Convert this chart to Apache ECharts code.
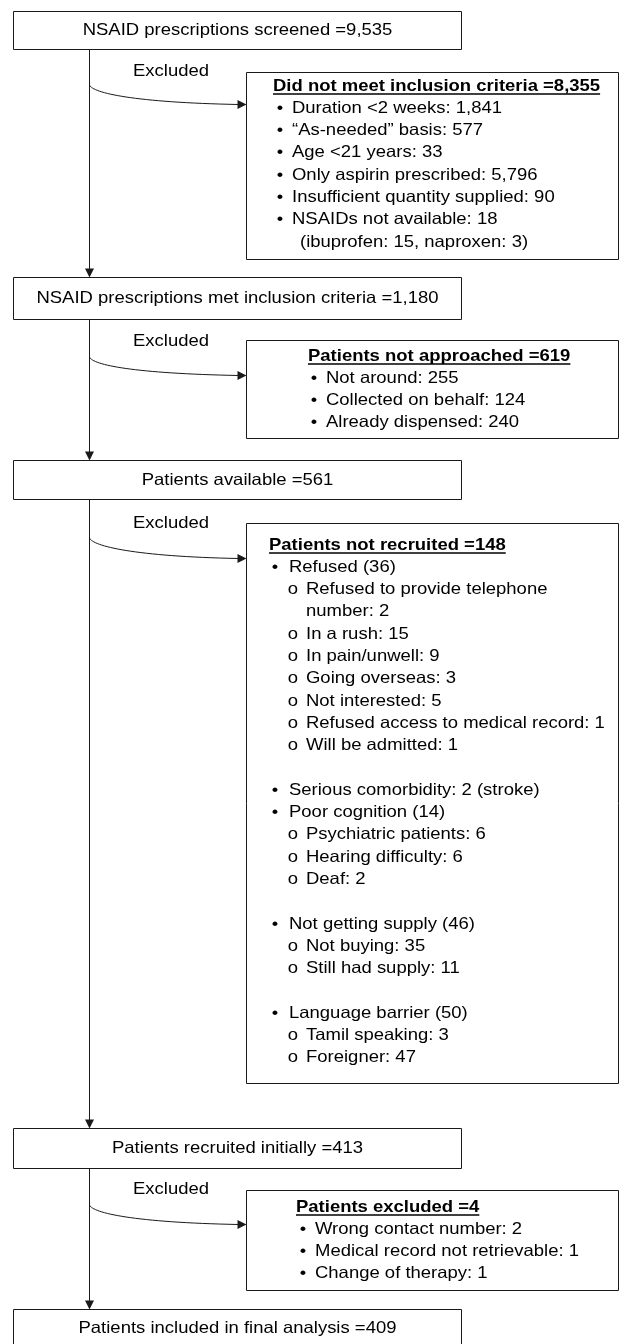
<!DOCTYPE html>
<html>
<head>
<meta charset="utf-8">
<script src="https://cdn.jsdelivr.net/npm/echarts@6/dist/echarts.min.js"></script>
<style>
  html, body { margin: 0; padding: 0; background: #fff; }
  #chart { width: 620px; height: 1344px; }
</style>
</head>
<body>
<div id="chart"></div>
<script>
// flow stages (main column)
const stageLabels = [
  "NSAID prescriptions screened =9,535",
  "NSAID prescriptions met inclusion criteria =1,180",
  "Patients available =561",
  "Patients recruited initially =413",
  "Patients included in final analysis =409"
];
const excludedLabel = "Excluded";

// exclusion boxes: b = bullet, s = sub item, sc / c = continuation line, "" = blank
const exclusionTitles = [
  "Did not meet inclusion criteria =8,355",
  "Patients not approached =619",
  "Patients not recruited =148",
  "Patients excluded =4"
];
const criteriaItems = [
  ["b", "Duration <2 weeks: 1,841"],
  ["b", "\u201cAs-needed\u201d basis: 577"],
  ["b", "Age <21 years: 33"],
  ["b", "Only aspirin prescribed: 5,796"],
  ["b", "Insufficient quantity supplied: 90"],
  ["b", "NSAIDs not available: 18"],
  ["c", "(ibuprofen: 15, naproxen: 3)"]
];
const notApproachedItems = [
  ["b", "Not around: 255"],
  ["b", "Collected on behalf: 124"],
  ["b", "Already dispensed: 240"]
];
const notRecruitedItems = [
  ["b", "Refused (36)"],
  ["s", "Refused to provide telephone"],
  ["sc", "number: 2"],
  ["s", "In a rush: 15"],
  ["s", "In pain/unwell: 9"],
  ["s", "Going overseas: 3"],
  ["s", "Not interested: 5"],
  ["s", "Refused access to medical record: 1"],
  ["s", "Will be admitted: 1"],
  ["", ""],
  ["b", "Serious comorbidity: 2 (stroke)"],
  ["b", "Poor cognition (14)"],
  ["s", "Psychiatric patients: 6"],
  ["s", "Hearing difficulty: 6"],
  ["s", "Deaf: 2"],
  ["", ""],
  ["b", "Not getting supply (46)"],
  ["s", "Not buying: 35"],
  ["s", "Still had supply: 11"],
  ["", ""],
  ["b", "Language barrier (50)"],
  ["s", "Tamil speaking: 3"],
  ["s", "Foreigner: 47"]
];
const excludedItems = [
  ["b", "Wrong contact number: 2"],
  ["b", "Medical record not retrievable: 1"],
  ["b", "Change of therapy: 1"]
];
const exclusionItems = [criteriaItems, notApproachedItems, notRecruitedItems, excludedItems];

// layout
const FONT = '"Liberation Sans", Arial, Helvetica, sans-serif';
const FS = 16.5;      // font size
const SX = 1.12;      // source picture is stretched a bit horizontally
const LH = 22.3;      // line height in the side boxes
const INK = "#1a1a1a";
const TEXT_INK = "#000";

const boxLeft = 13.5, boxRight = 461.5, flowX = 89.5;
const stageTops = [11.5, 277.5, 460.5, 1128.5, 1309.5];
const stageBottoms = [49.5, 319.5, 499.5, 1168.5, 1352];
const sideLeft = 246.5, sideRight = 618.5;
const sideTops = [72.5, 340.5, 523.5, 1190.5];
const sideBottoms = [259.5, 438.5, 1083.5, 1290.5];
const titleYs = [86, 356, 545, 1207];
const labelYs = [71, 341, 523, 1189];
const curveStartYs = [85, 357, 538, 1205];
const arrowYs = [104.5, 375.5, 558.5, 1224.5];
const indents = [
  { title: 273, bullet: 280, text: 292, cont: 300 },
  { title: 308, bullet: 314, text: 326 },
  { title: 269, bullet: 275, text: 289, sub: 293, subText: 306 },
  { title: 296, bullet: 303, text: 315 }
];

const measureCtx = document.createElement("canvas").getContext("2d");
function textWidth(str, bold) {
  measureCtx.font = (bold ? "bold " : "") + FS + "px " + FONT;
  return measureCtx.measureText(str).width * SX;
}

function txt(str, x, y, bold, align) {
  return {
    type: "text",
    x: x,
    y: y,
    scaleX: SX,
    z: 10,
    style: {
      text: str,
      x: 0,
      y: 0,
      fill: TEXT_INK,
      fontSize: FS,
      fontWeight: bold ? "bold" : "normal",
      fontFamily: FONT,
      textAlign: align || "left",
      align: align || "left",
      textVerticalAlign: "middle",
      verticalAlign: "middle"
    }
  };
}

function rect(x1, y1, x2, y2) {
  return {
    type: "rect",
    shape: { x: x1, y: y1, width: x2 - x1, height: y2 - y1 },
    style: { fill: "#fff", stroke: INK, lineWidth: 1 }
  };
}

function line(x1, y1, x2, y2) {
  return {
    type: "line",
    shape: { x1: x1, y1: y1, x2: x2, y2: y2 },
    style: { stroke: INK, lineWidth: 1 }
  };
}

function arrowDown(x, yTip) {
  return {
    type: "polygon",
    shape: { points: [[x - 4.5, yTip - 9], [x + 4.5, yTip - 9], [x, yTip]] },
    style: { fill: INK }
  };
}

function arrowRight(xTip, y) {
  return {
    type: "polygon",
    shape: { points: [[xTip - 9, y - 4.5], [xTip - 9, y + 4.5], [xTip, y]] },
    style: { fill: INK }
  };
}

const elements = [];

// main column boxes
stageLabels.forEach(function (label, i) {
  elements.push(rect(boxLeft, stageTops[i], boxRight, stageBottoms[i]));
  const cy = i < 4 ? (stageTops[i] + stageBottoms[i]) / 2 : 1328;
  elements.push(txt(label, (boxLeft + boxRight) / 2, cy, false, "center"));
});

// vertical connectors
for (let i = 0; i < stageLabels.length - 1; i++) {
  elements.push(line(flowX, stageBottoms[i], flowX, stageTops[i + 1] - 8));
  elements.push(arrowDown(flowX, stageTops[i + 1]));
}

// exclusion branches
exclusionTitles.forEach(function (title, i) {
  const ind = indents[i];
  elements.push(txt(excludedLabel, 133, labelYs[i], false, "left"));

  const y0 = curveStartYs[i], y1 = arrowYs[i];
  elements.push({
    type: "bezierCurve",
    shape: {
      x1: flowX, y1: y0,
      cpx1: flowX + 3, cpy1: y0 + 8,
      cpx2: flowX + 45, cpy2: y1 - 2,
      x2: sideLeft - 8, y2: y1
    },
    style: { stroke: INK, lineWidth: 1, fill: null }
  });
  elements.push(arrowRight(sideLeft, y1));

  elements.push(rect(sideLeft, sideTops[i], sideRight, sideBottoms[i]));

  // underlined title
  const ty = titleYs[i];
  elements.push(txt(title, ind.title, ty, true, "left"));
  const w = textWidth(title, true);
  elements.push({
    type: "line",
    shape: { x1: ind.title, y1: ty + 8, x2: ind.title + w, y2: ty + 8 },
    style: { stroke: TEXT_INK, lineWidth: 1.3 }
  });

  exclusionItems[i].forEach(function (item, k) {
    const kind = item[0], label = item[1];
    const y = ty + LH * (k + 1);
    if (kind === "b") {
      elements.push(txt("\u2022", ind.bullet, y, false, "center"));
      elements.push(txt(label, ind.text, y, false, "left"));
    } else if (kind === "s") {
      elements.push(txt("o", ind.sub, y, false, "center"));
      elements.push(txt(label, ind.subText, y, false, "left"));
    } else if (kind === "sc") {
      elements.push(txt(label, ind.subText, y, false, "left"));
    } else if (kind === "c") {
      elements.push(txt(label, ind.cont, y, false, "left"));
    }
  });
});

const myChart = echarts.init(document.getElementById("chart"), null, { renderer: "canvas" });
myChart.setOption({
  animation: false,
  backgroundColor: "#fff",
  graphic: { elements: elements }
});
window.onresize = function () {
  myChart.resize();
};
</script>
</body>
</html>
